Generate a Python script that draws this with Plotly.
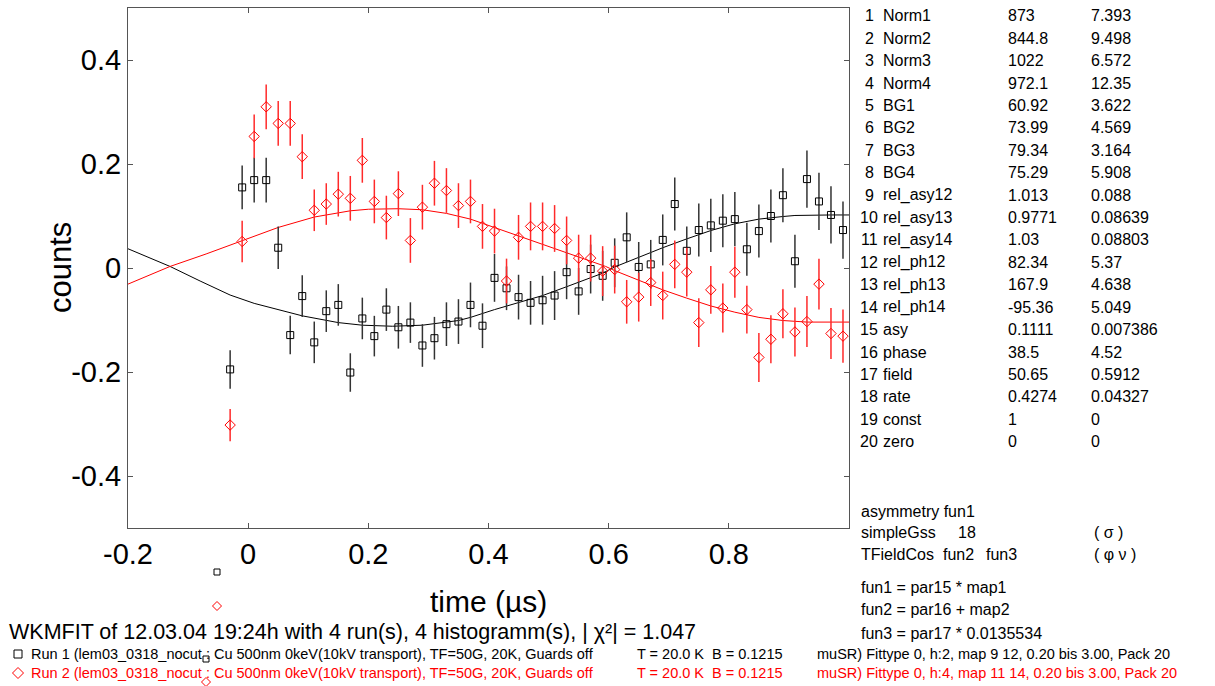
import plotly.graph_objects as go

# ---------------- data ----------------
t_data = [round(-0.03 + 0.02 * i, 2) for i in range(52)]

run1_y = [-0.195, 0.155, 0.169, 0.169, 0.039, -0.129, -0.054, -0.143, -0.083, -0.071,
          -0.201, -0.097, -0.131, -0.080, -0.114, -0.105, -0.149, -0.135, -0.108, -0.103,
          -0.071, -0.111, -0.019, -0.039, -0.056, -0.067, -0.062, -0.053, -0.008, -0.045,
          -0.002, -0.015, 0.010, 0.059, 0.002, 0.007, 0.054, 0.123, 0.033, 0.073,
          0.082, 0.091, 0.094, 0.036, 0.071, 0.100, 0.140, 0.013, 0.171, 0.128,
          0.102, 0.073]
run1_err = [0.037, 0.042, 0.043, 0.043, 0.041, 0.037, 0.040, 0.040, 0.040, 0.040,
            0.037, 0.040, 0.039, 0.041, 0.041, 0.039, 0.041, 0.041, 0.042, 0.043,
            0.043, 0.043, 0.046, 0.042, 0.043, 0.042, 0.047, 0.047, 0.052, 0.045,
            0.047, 0.048, 0.047, 0.048, 0.048, 0.047, 0.049, 0.051, 0.047, 0.051,
            0.051, 0.051, 0.052, 0.051, 0.051, 0.051, 0.052, 0.051, 0.055, 0.055,
            0.055, 0.055]

run2_y = [-0.302, 0.051, 0.253, 0.310, 0.278, 0.278, 0.214, 0.111, 0.123, 0.142,
          0.134, 0.207, 0.128, 0.097, 0.143, 0.053, 0.117, 0.163, 0.149, 0.120,
          0.128, 0.080, 0.071, -0.025, 0.059, 0.080, 0.080, 0.076, 0.053, 0.019,
          0.019, -0.006, -0.003, -0.065, -0.056, -0.028, -0.053, 0.007, -0.008, -0.105,
          -0.042, -0.077, -0.008, -0.080, -0.172, -0.137, -0.088, -0.123, -0.103, -0.031,
          -0.126, -0.131]
run2_err = [0.031, 0.040, 0.042, 0.043, 0.043, 0.043, 0.043, 0.040, 0.040, 0.043,
            0.043, 0.043, 0.042, 0.042, 0.043, 0.043, 0.043, 0.043, 0.043, 0.043,
            0.042, 0.043, 0.043, 0.043, 0.043, 0.046, 0.046, 0.045, 0.046, 0.045,
            0.045, 0.048, 0.046, 0.042, 0.047, 0.045, 0.046, 0.046, 0.047, 0.047,
            0.046, 0.047, 0.049, 0.046, 0.047, 0.046, 0.047, 0.047, 0.049, 0.049,
            0.049, 0.051]

fit1_t = [-0.2, -0.13, -0.08, -0.03, 0.01, 0.05, 0.09, 0.15, 0.19, 0.24, 0.29, 0.35, 0.37,
          0.41, 0.45, 0.49, 0.53, 0.57, 0.59, 0.61, 0.65, 0.69, 0.73, 0.77, 0.81, 0.85,
          0.89, 0.91, 0.97, 1.0]
fit1_y = [0.037, 0.003, -0.025, -0.052, -0.068, -0.080, -0.092, -0.105, -0.110, -0.112,
          -0.110, -0.101, -0.095, -0.080, -0.066, -0.053, -0.036, -0.019, -0.010, 0.002,
          0.021, 0.039, 0.056, 0.072, 0.085, 0.094, 0.099, 0.101, 0.102, 0.102]

fit2_t = [-0.2, -0.13, -0.07, -0.01, 0.05, 0.11, 0.17, 0.20, 0.25, 0.29, 0.33, 0.37, 0.41,
          0.45, 0.49, 0.53, 0.57, 0.595, 0.61, 0.65, 0.69, 0.73, 0.77, 0.81, 0.85, 0.89,
          0.93, 1.0]
fit2_y = [-0.031, 0.003, 0.027, 0.052, 0.078, 0.098, 0.110, 0.113, 0.114, 0.112, 0.105,
          0.094, 0.078, 0.062, 0.046, 0.030, 0.013, 0.003, -0.005, -0.024, -0.042, -0.058,
          -0.073, -0.085, -0.095, -0.101, -0.104, -0.104]

x_ticks = [-0.2, 0, 0.2, 0.4, 0.6, 0.8]
x_ticktext = ["-0.2", "0", "0.2", "0.4", "0.6", "0.8"]
y_ticks = [-0.4, -0.2, 0, 0.2, 0.4]
y_ticktext = ["-0.4", "-0.2", "0", "0.2", "0.4"]

par_names = ["Norm1", "Norm2", "Norm3", "Norm4", "BG1", "BG2", "BG3", "BG4",
             "rel_asy12", "rel_asy13", "rel_asy14", "rel_ph12", "rel_ph13", "rel_ph14",
             "asy", "phase", "field", "rate", "const", "zero"]
par_values = ["873", "844.8", "1022", "972.1", "60.92", "73.99", "79.34", "75.29",
              "1.013", "0.9771", "1.03", "82.34", "167.9", "-95.36", "0.1111", "38.5",
              "50.65", "0.4274", "1", "0"]
par_errors = ["7.393", "9.498", "6.572", "12.35", "3.622", "4.569", "3.164", "5.908",
              "0.088", "0.08639", "0.08803", "5.37", "4.638", "5.049", "0.007386", "4.52",
              "0.5912", "0.04327", "0", "0"]

# ---------------- geometry helpers ----------------
W_FIG, H_FIG = 1215, 686
L, T, PW, PH = 128, 8, 721, 520
R = W_FIG - L - PW
B = H_FIG - T - PH
FONT = "Liberation Sans, Arial, sans-serif"


def px(x):
    return (x - L) / PW


def py(y):
    return (T + PH - y) / PH


fig = go.Figure()

fig.add_trace(go.Scatter(
    x=fit1_t, y=fit1_y, mode="lines", line=dict(color="black", width=1),
    hoverinfo="skip", showlegend=False))
fig.add_trace(go.Scatter(
    x=fit2_t, y=fit2_y, mode="lines", line=dict(color="red", width=1),
    hoverinfo="skip", showlegend=False))

fig.add_trace(go.Scatter(
    x=t_data, y=run1_y, mode="markers",
    marker=dict(symbol="square-open", size=7, color="black", line=dict(width=1)),
    error_y=dict(type="data", array=run1_err, visible=True, color="#333333",
                 thickness=1.5, width=0),
    showlegend=False))
fig.add_trace(go.Scatter(
    x=t_data, y=run2_y, mode="markers",
    marker=dict(symbol="diamond-open", size=8, color="red", line=dict(width=1)),
    error_y=dict(type="data", array=run2_err, visible=True, color="#ff2a2a",
                 thickness=1.5, width=0),
    showlegend=False))

axis_common = dict(showgrid=False, zeroline=False, showline=True, linecolor="#555555",
                   linewidth=1, mirror="ticks", ticks="inside", ticklen=5,
                   tickcolor="#555555", tickfont=dict(family=FONT, size=29, color="black"))

fig.update_xaxes(range=[-0.2, 1.0], tickvals=x_ticks, ticktext=x_ticktext, **axis_common)
fig.update_yaxes(range=[-0.5, 0.5], tickvals=y_ticks, ticktext=y_ticktext, **axis_common)

ann = []
# axis titles
ann.append(dict(x=px(488), y=py(601), text="time (µs)", font=dict(size=30), borderpad=0))
ann.append(dict(x=px(60), y=py(268), text="counts", textangle=-90, font=dict(size=31)))

# header line
ann.append(dict(x=px(8), y=py(632), xanchor="left",
                text="WKMFIT of 12.03.04 19:24h with 4 run(s), 4 histogramm(s), | χ²| = 1.047",
                font=dict(size=21.5), borderpad=0))

# run lines
run_rows = [
    (654, "black", "Run 1 (lem03_0318_nocut : Cu 500nm 0keV(10kV transport), TF=50G, 20K, Guards off",
     "muSR) Fittype 0, h:2, map 9 12, 0.20 bis 3.00, Pack 20"),
    (673, "red", "Run 2 (lem03_0318_nocut : Cu 500nm 0keV(10kV transport), TF=50G, 20K, Guards off",
     "muSR) Fittype 0, h:4, map 11 14, 0.20 bis 3.00, Pack 20"),
]
for yy, col, t1, t3 in run_rows:
    for xx, tx in [(30, t1), (636, "T = 20.0 K"), (711, "B = 0.1215"), (816, t3)]:
        ann.append(dict(x=px(xx), y=py(yy), xanchor="left", text=tx, borderpad=0,
                        font=dict(size=14.5, color=col)))

# parameter table
for i, (nm, v, e) in enumerate(zip(par_names, par_values, par_errors)):
    yy = 16 + 22.4 * i
    n = i + 1
    ann.append(dict(x=px(880), y=py(yy), xanchor="right", text=str(n) if n >= 10 else f"{n}&nbsp;",
                    font=dict(size=16)))
    ann.append(dict(x=px(881), y=py(yy), xanchor="left", text=nm, font=dict(size=16)))
    ann.append(dict(x=px(1006), y=py(yy), xanchor="left", text=v, font=dict(size=16)))
    ann.append(dict(x=px(1089), y=py(yy), xanchor="left", text=e, font=dict(size=16)))

# theory block
theory = [
    (859, 511, "asymmetry fun1"),
    (859, 532, "simpleGss"), (956, 532, "18"), (1092, 532, "( σ )"),
    (859, 554, "TFieldCos"), (941, 554, "fun2"), (984, 554, "fun3"), (1092, 554, "( φ ν )"),
    (859, 587, "fun1 = par15 * map1"),
    (859, 609, "fun2 = par16 + map2"),
    (859, 633, "fun3 = par17 * 0.0135534"),
]
for xx, yy, tx in theory:
    ann.append(dict(x=px(xx), y=py(yy), xanchor="left", text=tx, font=dict(size=16)))

for a in ann:
    a.setdefault("xanchor", "center")
    a.update(xref="paper", yref="paper", yanchor="middle", showarrow=False)
    f = a["font"]
    f.setdefault("color", "black")
    f["family"] = FONT

# stray / legend markers drawn as pixel-sized shapes
shapes = []


def square(x, y, s, col):
    return dict(type="rect", xref="paper", yref="paper", xsizemode="pixel", ysizemode="pixel",
                xanchor=px(x), yanchor=py(y), x0=-s / 2, x1=s / 2, y0=-s / 2, y1=s / 2,
                line=dict(color=col, width=1), fillcolor="rgba(0,0,0,0)")


def diamond(x, y, s, col):
    h = s / 2
    return dict(type="path", xref="paper", yref="paper", xsizemode="pixel", ysizemode="pixel",
                xanchor=px(x), yanchor=py(y),
                path=f"M 0 {h} L {h} 0 L 0 {-h} L {-h} 0 Z",
                line=dict(color=col, width=1), fillcolor="rgba(0,0,0,0)")


shapes += [square(217, 572, 6, "black"), diamond(217, 606, 9, "red"),
           square(18, 654, 8, "black"), diamond(18, 673, 11, "red"),
           square(206, 659, 6, "black"), diamond(206, 682, 9, "red")]

fig.update_layout(
    width=W_FIG, height=H_FIG,
    margin=dict(l=L, r=R, t=T, b=B, pad=0),
    paper_bgcolor="white", plot_bgcolor="white",
    font=dict(family=FONT, color="black"),
    annotations=ann, shapes=shapes, showlegend=False,
)

fig.write_html("out.html")
